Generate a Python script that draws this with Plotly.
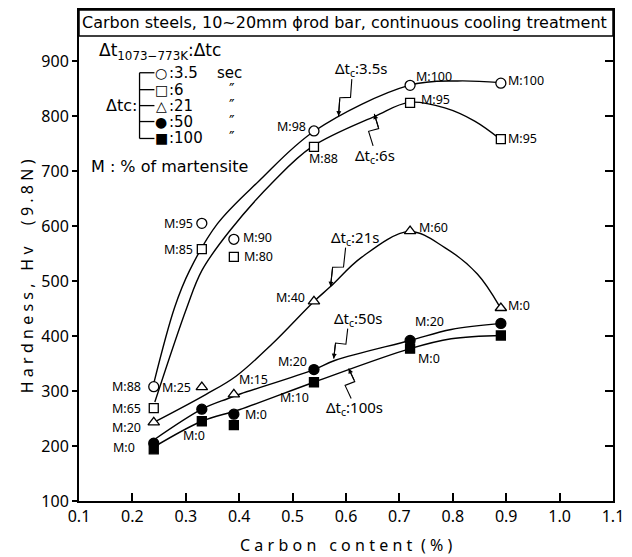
import math
import plotly.graph_objects as go

# ---------------- data ----------------
carbon = [0.24, 0.33, 0.39, 0.54, 0.72, 0.89]
hv_35 = [308, 605, 576, 773, 856, 860]
hv_6 = [269, 558, 544, 744, 824, 758]
hv_21 = [243, 307, 294, 463, 591, 451]
hv_50 = [205, 267, 258, 339, 392, 423]
hv_100 = [194, 245, 238, 316, 377, 401]

m_35 = ["M:88", "M:95", "M:90", "M:98", "M:100", "M:100"]
m_6 = ["M:65", "M:85", "M:80", "M:88", "M:95", "M:95"]
m_21 = ["M:20", "M:25", "M:15", "M:40", "M:60", "M:0"]
m_50 = ["M:0", "", "M:0", "M:20", "M:20", ""]
m_100 = ["", "M:0", "", "M:10", "M:0", ""]

# hand-drawn trend curves
curve_35_x = [0.240, 0.279, 0.307, 0.359, 0.437, 0.541, 0.718, 0.809, 0.889]
curve_35_y = [314, 452, 519, 604, 682, 773, 856, 864, 861]
curve_6_x = [0.242, 0.302, 0.330, 0.382, 0.465, 0.536, 0.655, 0.718, 0.785, 0.841, 0.889]
curve_6_y = [280, 452, 519, 591, 682, 744, 800, 825, 815, 791, 758]
curve_21_x = [0.240, 0.338, 0.394, 0.462, 0.540, 0.571, 0.629, 0.718, 0.785, 0.846, 0.887]
curve_21_y = [243, 294, 327, 386, 463, 490, 543, 590, 561, 513, 455]
curve_50_x = [0.240, 0.330, 0.378, 0.403, 0.540, 0.580, 0.720, 0.797, 0.893]
curve_50_y = [211, 267, 286, 295, 339, 356, 392, 412, 423]
curve_100_x = [0.240, 0.330, 0.400, 0.540, 0.720, 0.797, 0.893]
curve_100_y = [198, 245, 266, 316, 377, 395, 401]

# cooling-time labels and where their arrows touch the curves
dtc_labels = ["Δt<sub>c</sub>:3.5s", "Δt<sub>c</sub>:6s", "Δt<sub>c</sub>:21s",
              "Δt<sub>c</sub>:50s", "Δt<sub>c</sub>:100s"]
dtc_tip_x = [0.586, 0.653, 0.571, 0.577, 0.605]
dtc_tip_y = [800, 804, 490, 359, 341]

x_ticks = [0.1, 0.2, 0.3, 0.4, 0.5, 0.6, 0.7, 0.8, 0.9, 1.0, 1.1]
x_tick_text = ["0.1", "0.2", "0.3", "0.4", "0.5", "0.6", "0.7", "0.8", "0.9", "1.0", "1.1"]
y_ticks = [100, 200, 300, 400, 500, 600, 700, 800, 900]

# --------------- layout constants ---------------
W, H = 632, 557
ML, MR, MT, MB = 79, 15, 8, 56
PW, PH = W - ML - MR, H - MT - MB
FONT = "Noto Sans"
WFONT = "DejaVu Sans"


def px(xp):
    return (xp - ML) / PW


def py(yp):
    return (H - MB - yp) / PH


fig = go.Figure()

line_style = dict(color="black", width=1.4, shape="spline", smoothing=1.0)
for cx, cy in [(curve_35_x, curve_35_y), (curve_6_x, curve_6_y), (curve_21_x, curve_21_y),
               (curve_50_x, curve_50_y), (curve_100_x, curve_100_y)]:
    fig.add_trace(go.Scatter(x=cx, y=cy, mode="lines", line=line_style,
                             showlegend=False, hoverinfo="skip"))

series = [
    (hv_100, "square", "black", 9),
    (hv_50, "circle", "black", 10),
    (hv_21, "triangle-up", "white", 10),
    (hv_6, "square", "white", 9),
    (hv_35, "circle", "white", 10),
]
for yv, sym, fill, size in series:
    fig.add_trace(go.Scatter(
        x=carbon, y=yv, mode="markers",
        marker=dict(symbol=sym, size=size, color=fill,
                    line=dict(color="black", width=1.3)),
        showlegend=False, hoverinfo="skip"))

# invisible trace to carry the right-hand axis
fig.add_trace(go.Scatter(x=carbon, y=hv_35, yaxis="y2", mode="lines",
                         line=dict(width=0), opacity=0, showlegend=False,
                         hoverinfo="skip"))

annotations = []
shapes = []

# M labels: (xanchor, xshift, yshift) per point
place_35 = [("right", -11, 0), ("right", -7, 0), ("left", 7, 2), ("right", -6, 4),
            ("left", 4, 9), ("left", 5, 3)]
place_6 = [("right", -11, 0), ("right", -7, 0), ("left", 8, 0), ("center", 10, -12),
           ("left", 9, 3), ("left", 5, 1)]
place_21 = [("right", -11, -5), ("right", -9, 0), ("left", 3, 15), ("right", -7, 4),
            ("left", 7, 4), ("left", 5, 3)]
place_50 = [("right", -17, -4), ("left", 0, 0), ("left", 9, 0), ("right", -5, 8),
            ("left", 3, 19), ("left", 0, 0)]
place_100 = [("left", 0, 0), ("center", -8, -14), ("left", 0, 0), ("right", -3, -15),
             ("left", 6, -10), ("left", 0, 0)]

for yv, labels, places in [(hv_35, m_35, place_35), (hv_6, m_6, place_6),
                           (hv_21, m_21, place_21), (hv_50, m_50, place_50),
                           (hv_100, m_100, place_100)]:
    for xv, y, lab, (xa, xs, ys) in zip(carbon, yv, labels, places):
        if not lab:
            continue
        annotations.append(dict(x=xv, y=y, xref="x", yref="y", text=lab,
                                showarrow=False, xanchor=xa, yanchor="middle",
                                xshift=xs, yshift=ys,
                                font=dict(family=FONT, size=12.5, color="black")))

# Δtc labels with lightning-bolt arrows (screen offsets of label from tip, y down)
dtc_offsets = [(22, -47), (1, 42), (24, -49), (24, -40), (6, 40)]
for txt, xt, yt, (ox, oy) in zip(dtc_labels, dtc_tip_x, dtc_tip_y, dtc_offsets):
    annotations.append(dict(x=xt, y=yt, xref="x", yref="y", text=txt,
                            showarrow=False, xanchor="center", yanchor="middle",
                            xshift=ox, yshift=-oy,
                            font=dict(family=FONT, size=15, color="black")))
    sgn = 1 if oy > 0 else -1
    sy = oy - sgn * 10
    sx = ox * abs(sy) / abs(oy) + (-4 if oy < 0 else -2)
    L = math.hypot(sx, sy)
    nx, ny = -sy / L, sx / L
    m1 = (sx * 0.55 + nx * 5, sy * 0.55 + ny * 5)
    m2 = (sx * 0.45 - nx * 5, sy * 0.45 - ny * 5)
    path = "M {:.1f},{:.1f} L {:.1f},{:.1f} L {:.1f},{:.1f} L 0,0".format(
        sx, -sy, m1[0], -m1[1], m2[0], -m2[1])
    shapes.append(dict(type="path", xref="x", yref="y", xsizemode="pixel",
                       ysizemode="pixel", xanchor=xt, yanchor=yt, path=path,
                       line=dict(color="black", width=1.1)))
    annotations.append(dict(x=xt, y=yt, xref="x", yref="y", text="", showarrow=True,
                            arrowhead=2, arrowsize=0.9, arrowwidth=1.1,
                            arrowcolor="black", ax=m2[0], ay=m2[1]))

# Title
annotations.append(dict(x=px(346), y=py(21), xref="paper", yref="paper",
                        text="Carbon steels, 10~20mm \u03d5rod bar, continuous cooling treatment",
                        showarrow=False, xanchor="center", yanchor="middle",
                        font=dict(family=WFONT, size=16, color="black")))

# custom legend
annotations.append(dict(x=px(97), y=py(50), xref="paper", yref="paper",
                        text="Δt<sub>1073−773K</sub>:Δtc", showarrow=False,
                        xanchor="left", yanchor="middle",
                        font=dict(family=WFONT, size=17, color="black")))
rows_y = [71, 88, 104, 120, 137]
syms = ["○", "□", "△", "●", "■"]
vals = [":3.5", ":6", ":21", ":50", ":100"]
units = ["sec", "\u2033", "\u2033", "\u2033", "\u2033"]
for ry, s, v, u in zip(rows_y, syms, vals, units):
    annotations.append(dict(x=px(162), y=py(ry), xref="paper", yref="paper", text=s,
                            showarrow=False, xanchor="center", yanchor="middle",
                            font=dict(family="DejaVu Sans", size=14, color="black")))
    annotations.append(dict(x=px(168), y=py(ry), xref="paper", yref="paper", text=v,
                            showarrow=False, xanchor="left", yanchor="middle",
                            font=dict(family=WFONT, size=15, color="black")))
    annotations.append(dict(x=px(216 if u == "sec" else 228), y=py(ry), xref="paper",
                            yref="paper", text=u, showarrow=False, xanchor="left",
                            yanchor="middle",
                            font=dict(family=WFONT, size=15, color="black")))
    shapes.append(dict(type="line", xref="paper", yref="paper", x0=px(140), x1=px(155),
                       y0=py(ry), y1=py(ry), line=dict(color="black", width=1.3)))
shapes.append(dict(type="line", xref="paper", yref="paper", x0=px(140), x1=px(140),
                   y0=py(rows_y[0]), y1=py(rows_y[-1]), line=dict(color="black", width=1.3)))
annotations.append(dict(x=px(139), y=py(104), xref="paper", yref="paper", text="Δtc:",
                        showarrow=False, xanchor="right", yanchor="middle",
                        font=dict(family=WFONT, size=16, color="black")))
annotations.append(dict(x=px(89), y=py(165), xref="paper", yref="paper",
                        text="M : % of martensite", showarrow=False, xanchor="left",
                        yanchor="middle", font=dict(family=WFONT, size=16, color="black")))

# title box
shapes.append(dict(type="rect", xref="paper", yref="paper", x0=0, x1=1, y0=py(34), y1=1,
                   line=dict(color="black", width=1.5), fillcolor="white", layer="below"))

# axis titles (letter-spaced)
sp = "\u2009\u200a"
xlab = sp.join("Carbon") + sp * 3 + sp.join("content") + sp * 2 + sp.join("(%)")
ylab = sp.join("Hardness,") + sp * 3 + sp.join("Hv") + sp * 5 + sp.join("(9.8N)")
annotations.append(dict(x=px(349), y=py(545), xref="paper", yref="paper", text=xlab,
                        showarrow=False, xanchor="center", yanchor="middle",
                        font=dict(family=FONT, size=16, color="black")))
annotations.append(dict(x=px(27), y=py(275), xref="paper", yref="paper", text=ylab,
                        showarrow=False, xanchor="center", yanchor="middle", textangle=-90,
                        font=dict(family=FONT, size=16, color="black")))

fig.update_layout(
    width=W, height=H,
    margin=dict(l=ML, r=MR, t=MT, b=MB, pad=0),
    paper_bgcolor="white", plot_bgcolor="white",
    showlegend=False,
    xaxis=dict(range=[0.1, 1.1], tickvals=x_ticks, ticktext=x_tick_text,
               ticks="inside", ticklen=8, tickwidth=1.5, tickcolor="black",
               showline=True, linecolor="black", linewidth=2, mirror=True,
               showgrid=False, zeroline=False,
               tickfont=dict(family=FONT, size=16, color="black")),
    yaxis=dict(range=[100, 993], tickvals=y_ticks,
               ticks="outside", ticklen=5, tickwidth=1.5, tickcolor="black",
               showline=True, linecolor="black", linewidth=2, mirror=True,
               showgrid=False, zeroline=False,
               tickfont=dict(family=FONT, size=16, color="black")),
    yaxis2=dict(range=[100, 993], tickvals=y_ticks, overlaying="y", side="right",
                ticks="inside", ticklen=8, tickwidth=1.5, tickcolor="black",
                showticklabels=False, showline=False, showgrid=False, zeroline=False),
    annotations=annotations,
    shapes=shapes,
)

fig.write_html("out.html")
